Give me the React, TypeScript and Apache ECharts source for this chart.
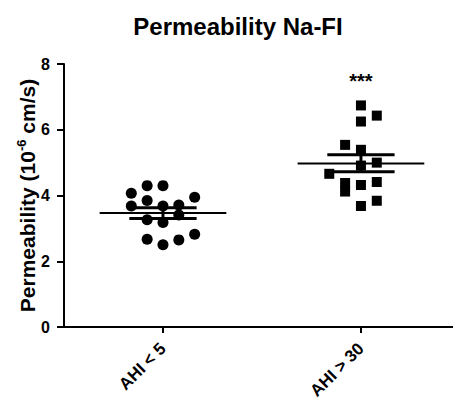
import React, { useEffect, useRef } from "react";
import * as echarts from "echarts";

// Groups and their x positions on the value axis
const groupNames = ["AHI < 5", "AHI > 30"];
const groupX = [1, 3];

// Jitter offsets (in axis units) and values
const lowOffsets = [-0.32, -0.16, 0, -0.16, -0.32, 0, 0.16, 0.32, -0.16, 0, 0.16, -0.16, 0, 0.16, 0.32];
const lowValues = [4.07, 4.3, 4.3, 3.85, 3.68, 3.68, 3.71, 3.95, 3.26, 3.18, 3.41, 2.67, 2.5, 2.65, 2.82];

const highOffsets = [0, 0.16, 0, -0.16, 0, 0.16, 0, -0.32, -0.16, -0.16, 0, 0.16, 0.16, 0];
const highValues = [6.74, 6.43, 6.25, 5.54, 5.39, 5.0, 4.91, 4.66, 4.38, 4.12, 4.32, 4.41, 3.84, 3.68];

// Mean and SEM bounds
const means = [3.47, 4.97];
const semUpper = [3.63, 5.24];
const semLower = [3.3, 4.72];

// Significance annotation
const sigText = ["", "***"];
const sigY = [0, 7.48];

const yTicks = [0, 2, 4, 6, 8];

const FONT = "Liberation Sans, Arial, Helvetica, sans-serif";

export default function App() {
  const ref = useRef<HTMLDivElement>(null);

  useEffect(() => {
    if (!ref.current) return;
    const chart = echarts.init(ref.current, null, { renderer: "svg" });

    const lowData = lowValues.map((v, i) => [groupX[0] + lowOffsets[i], v]);
    const highData = highValues.map((v, i) => [groupX[1] + highOffsets[i], v]);
    const statData = groupX.map((x, i) => [x, means[i], semUpper[i], semLower[i]]);
    const sigData = groupX
      .map((x, i) => ({ value: [x, sigY[i]], text: sigText[i] }))
      .filter((d) => d.text);

    const option: any = {
      animation: false,
      backgroundColor: "#ffffff",
      title: {
        text: "Permeability Na-FI",
        left: 233,
        textAlign: "center",
        top: 9,
        textStyle: { fontFamily: FONT, fontWeight: "bold", fontSize: 24, color: "#000" },
      },
      grid: { left: 64, right: 0, top: 64, bottom: 81, containLabel: false, outerBoundsMode: "none" },
      xAxis: {
        type: "value",
        min: 0,
        max: 3.93,
        splitLine: { show: false },
        axisLine: { show: true, onZero: false, lineStyle: { color: "#000", width: 2 } },
        axisTick: {
          show: true,
          customValues: groupX,
          length: 6,
          lineStyle: { color: "#000", width: 2 },
        },
        axisLabel: {
          customValues: groupX,
          rotate: 45,
          margin: 19,
          fontFamily: FONT,
          fontWeight: "bold",
          fontSize: 17,
          color: "#000",
          formatter: (v: number) => {
            const idx = groupX.indexOf(Math.round(v));
            return idx >= 0 ? groupNames[idx] : "";
          },
        },
      },
      yAxis: {
        type: "value",
        min: 0,
        max: 8,
        interval: 2,
        splitLine: { show: false },
        axisLine: { show: true, lineStyle: { color: "#000", width: 2 } },
        axisTick: { show: true, length: 7, lineStyle: { color: "#000", width: 2 } },
        axisLabel: {
          margin: 14,
          fontFamily: FONT,
          fontWeight: "bold",
          fontSize: 16,
          color: "#000",
          formatter: (v: number) => (yTicks.includes(v) ? String(v) : ""),
        },
        name: "{a|Permeability (10}{b|-6}{a| cm/s)}",
        nameLocation: "middle",
        nameRotate: 90,
        nameGap: 25,
        nameMoveOverlap: false,
        nameTextStyle: {
          fontFamily: FONT,
          fontWeight: "bold",
          color: "#000",
          rich: {
            a: { fontFamily: FONT, fontWeight: "bold", fontSize: 21, color: "#000", lineHeight: 24 },
            b: {
              fontFamily: FONT,
              fontWeight: "bold",
              fontSize: 13,
              color: "#000",
              lineHeight: 24,
              verticalAlign: "top",
            },
          },
        },
      },
      series: [
        {
          type: "scatter",
          data: lowData,
          symbol: "circle",
          symbolSize: 11,
          itemStyle: { color: "#000", opacity: 1 },
          z: 3,
        },
        {
          type: "scatter",
          data: highData,
          symbol: "rect",
          symbolSize: 10,
          itemStyle: { color: "#000", opacity: 1 },
          z: 3,
        },
        {
          type: "custom",
          data: statData,
          z: 4,
          renderItem: (params: any, api: any) => {
            const x = api.value(0);
            const m = api.value(1);
            const up = api.value(2);
            const lo = api.value(3);
            const mL = api.coord([x - 0.64, m]);
            const mR = api.coord([x + 0.64, m]);
            const uL = api.coord([x - 0.34, up]);
            const uR = api.coord([x + 0.34, up]);
            const lL = api.coord([x - 0.34, lo]);
            const lR = api.coord([x + 0.34, lo]);
            const vT = api.coord([x, up]);
            const vB = api.coord([x, lo]);
            const stroke = { stroke: "#000", lineWidth: 2 };
            const stroke3 = { stroke: "#000", lineWidth: 3 };
            return {
              type: "group",
              children: [
                { type: "line", shape: { x1: mL[0], y1: mL[1], x2: mR[0], y2: mR[1] }, style: stroke },
                { type: "line", shape: { x1: uL[0], y1: uL[1], x2: uR[0], y2: uR[1] }, style: stroke3 },
                { type: "line", shape: { x1: lL[0], y1: lL[1], x2: lR[0], y2: lR[1] }, style: stroke3 },
                { type: "line", shape: { x1: vT[0], y1: vT[1], x2: vB[0], y2: vB[1] }, style: stroke3 },
              ],
            };
          },
        },
        {
          type: "scatter",
          data: sigData,
          symbolSize: 0,
          silent: true,
          itemStyle: { opacity: 1 },
          label: {
            show: true,
            position: "inside",
            formatter: (p: any) => p.data.text,
            fontFamily: FONT,
            fontWeight: "bold",
            fontSize: 20,
            color: "#000",
            opacity: 1,
          },
        },
      ],
    };

    chart.setOption(option);
    return () => chart.dispose();
  }, []);

  return (
    <div
      ref={ref}
      style={{ position: "absolute", left: 0, top: 0, width: 453, height: 408 }}
    />
  );
}
